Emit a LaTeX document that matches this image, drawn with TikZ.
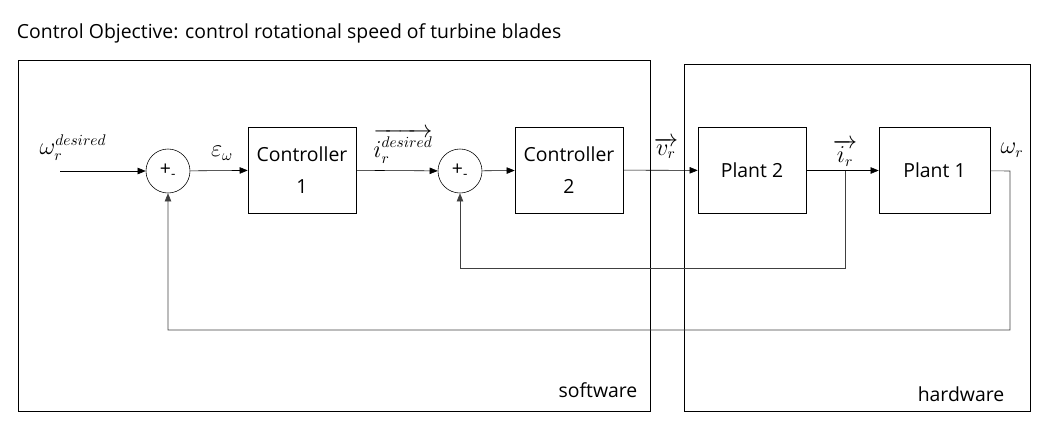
\documentclass[tikz,border=0pt]{standalone}
\usepackage{fontspec}
\setmainfont{Open Sans}
\usetikzlibrary{arrows.meta, positioning, calc}

\begin{document}
\begin{tikzpicture}[
        x=0.025cm, y=-0.025cm,
        font=\fontsize{13.8}{16}\selectfont,
        block/.style={rectangle, draw=black, align=center, minimum width=2.7cm, minimum height=2.15cm, inner sep=0pt, font=\fontsize{13.8}{22.5}\selectfont},
        sum/.style={circle, draw=black, minimum size=1.1cm, inner sep=0pt},
        lbl/.style={font=\fontsize{16}{18}\selectfont, inner sep=1pt},
        arrow/.style={->, >={Triangle[length=2mm,width=1.6mm]}},
        fb/.style={arrow, draw=black!75}
        ]
        \useasboundingbox (0,0) rectangle (1041,437);

        \node[anchor=west] (title) at (12,33) {Control Objective: control rotational speed of turbine blades};

        % software / hardware regions
        \draw (18,60) rectangle (650,411);
        \draw (684,64) rectangle (1030,411);
        \node (sw) at (598,390) {software};
        \node (hw) at (961,394) {hardware};

        \node[sum] (sum1) at (168,171) {+\textsubscript{-}};
        \node[block] (ctrl1) at (302,170) {Controller\\1};
        \node[sum] (sum2) at (460,171) {+\textsubscript{-}};
        \node[block] (ctrl2) at (569,170) {Controller\\2};
        \node[block] (plant2) at (752,170.5) {Plant 2};
        \node[block, minimum width=2.775cm] (plant1) at (934.5,170.5) {Plant 1};

        \coordinate (in) at (60,171);
        \coordinate (tap) at (845,171);
        \coordinate (out) at (1010,171);

        \node[lbl] (wd) at (73,148) {$\omega_r^{desired}$};
        \node[lbl] (eps) at (222,153) {$\varepsilon_\omega$};
        \node[lbl] (ird) at (403,146) {$\overrightarrow{i_r^{desired}}$};
        \node[lbl] (vr) at (666,148) {$\overrightarrow{v_r}$};
        \node[lbl] (ir) at (845,153) {$\overrightarrow{i_r}$};
        \node[lbl] (wr) at (1012,150) {$\omega_r$};

        \draw[arrow] (in) -- (sum1);
        \draw[arrow] (sum1) -- (ctrl1);
        \draw[arrow] (ctrl1) -- (sum2);
        \draw[arrow] (sum2) -- (ctrl2);
        \draw[arrow] (ctrl2) -- (plant2);
        \draw[arrow] (plant2) -- (plant1);
        \draw[fb] (tap) -- ++(0,97) -| (sum2.south);
        \draw[fb] (plant1) -- (out) -- ++(0,159) -| (sum1.south);
    \end{tikzpicture}
\end{document}
